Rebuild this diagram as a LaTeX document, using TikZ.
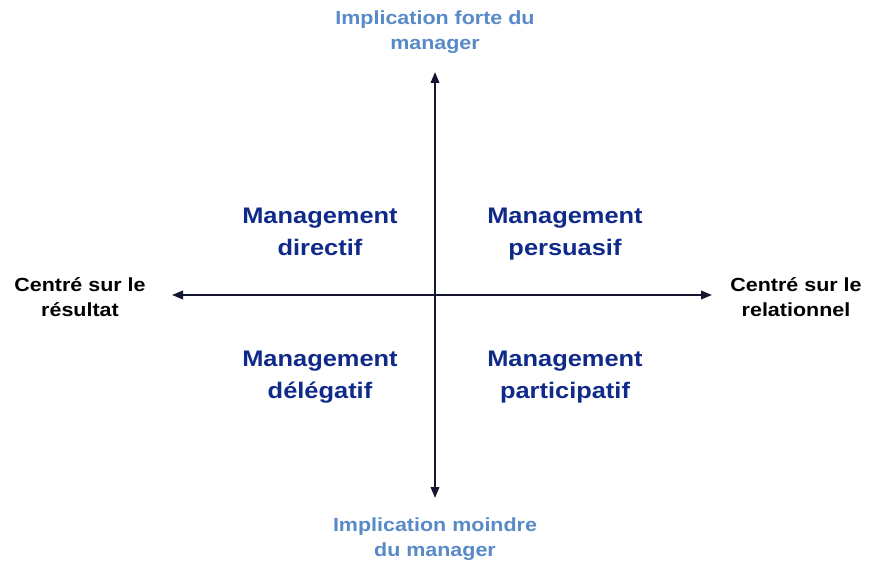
\documentclass[tikz,border=0pt]{standalone}
\usepackage{fontspec}
\setmainfont[FakeStretch=1.13]{Liberation Sans}
\usetikzlibrary{arrows.meta}
\definecolor{axiscol}{RGB}{20,22,50}
\definecolor{lightblue}{RGB}{88,138,200}
\definecolor{darkblue}{RGB}{16,42,138}
\tikzset{
  axis/.style={draw=axiscol, line width=2pt, -{Triangle[length=11pt,width=8.5pt]}},
  poletext/.style={align=center, font=\bfseries\fontsize{19}{25}\selectfont, text=lightblue},
  sidetext/.style={align=center, font=\bfseries\fontsize{19}{25}\selectfont, text=black},
  quadtext/.style={align=center, anchor=north, font=\bfseries\fontsize{22.5}{32}\selectfont, text=darkblue}
}
\begin{document}
\begin{tikzpicture}[x=1pt,y=1pt]
\useasboundingbox (0,0) rectangle (871,566);
\coordinate (c) at (435,271);
\coordinate (top) at (435,494);
\coordinate (bot) at (435,68);
\coordinate (left) at (172,271);
\coordinate (right) at (712,271);
\draw[axis] (c) -- (top);
\draw[axis] (c) -- (bot);
\draw[axis] (c) -- (left);
\draw[axis] (c) -- (right);
\node[poletext] (ptop) at (435,534) {Implication forte du\\manager};
\node[poletext] (pbot) at (435,27) {Implication moindre\\du manager};
\node[sidetext] (sl) at (80,269) {Centré sur le\\résultat};
\node[sidetext] (sr) at (796,269) {Centré sur le\\relationnel};
\node[quadtext] (q1) at (320,361.5) {Management\\directif};
\node[quadtext] (q2) at (565,361.5) {Management\\persuasif};
\node[quadtext] (q3) at (320,218.5) {Management\\délégatif};
\node[quadtext] (q4) at (565,218.5) {Management\\participatif};
\end{tikzpicture}
\end{document}
